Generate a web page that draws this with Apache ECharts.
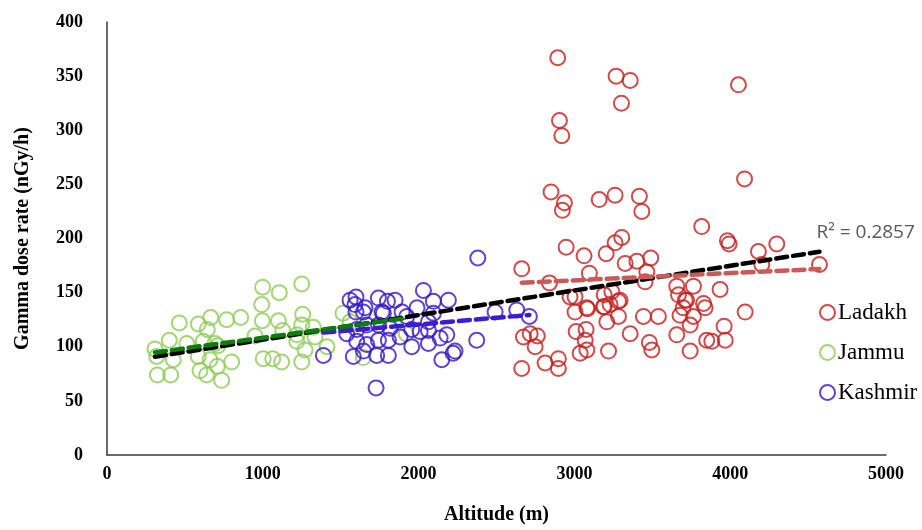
<!DOCTYPE html>
<html>
<head>
<meta charset="utf-8">
<script src="https://cdn.jsdelivr.net/npm/echarts@6/dist/echarts.min.js"></script>
<style>
  html, body { margin: 0; padding: 0; background: #fff; }
  #main { width: 922px; height: 530px; }
</style>
</head>
<body>
<div id="main"></div>
<script>
// altitude (m), gamma dose rate (nGy/h)
var ladakh = [
  [2893,367],[3268,350],[3358,346],[3302,325],[2904,309],[2919,295],[2850,243],[2936,233],
  [2923,226],[3159,236],[3261,240],[3417,239],[3433,225],[2947,192],[3062,184],[3204,186],
  [3261,196],[3304,201],[3326,177],[3401,179],[3490,182],[3465,169],[3096,168],[2662,172],
  [2840,159],[3004,146],[3191,148],[3240,151],[3283,142],[3454,160],[3191,137],[3004,132],
  [3084,135],[3283,128],[3208,123],[3011,114],[3075,116],[3069,106],[3080,97],[3037,94],
  [3219,96],[3358,112],[3481,104],[3497,97],[3443,128],[3539,128],[2673,109],[2716,112],
  [2762,110],[2748,100],[2662,80],[2812,85],[2897,89],[2897,80],[3657,156],[3764,156],
  [3668,148],[3711,143],[3678,129],[3743,120],[3657,111],[3743,96],[3817,211],[2972,146],
  [3080,136],[3186,137],[3293,143],[3229,139],[3829,140],[3839,136],[3764,128],[3849,106],
  [3982,198],[3993,195],[4181,188],[4299,195],[4203,176],[3935,153],[4096,132],[3961,119],
  [3968,106],[3882,105],[4053,342],[4092,255],[4573,176],[3698,136],[3720,143]
];
var jammu = [
  [999,155],[1106,150],[1250,158],[993,139],[464,122],[586,121],[666,127],[644,116],
  [768,125],[858,127],[997,124],[1100,124],[1256,130],[1250,120],[1324,118],[950,110],
  [1128,115],[1218,105],[400,106],[308,98],[319,91],[512,103],[618,105],[693,103],
  [586,91],[661,88],[800,86],[426,88],[323,74],[409,74],[597,78],[640,74],
  [708,82],[736,69],[1003,89],[1064,89],[1121,86],[1250,86],[1271,97],[1335,109],
  [1412,100],[1515,131],[1560,123],[1645,90],[713,101],[1220,111],[1920,112]
];
var kashmir = [
  [2380,182],[1598,146],[1592,139],[1598,132],[1742,145],[1800,142],[1849,143],[2031,152],
  [2095,142],[2191,143],[1646,132],[1774,131],[1924,128],[2095,131],[2063,123],[2181,111],
  [2138,108],[2010,114],[1881,109],[1817,117],[1742,120],[1667,120],[1603,116],[1539,112],
  [1603,105],[1742,106],[1667,102],[1806,106],[1956,100],[2063,103],[2234,96],[2149,88],
  [1806,92],[1731,92],[1646,96],[1581,91],[1389,92],[1727,62],[2373,106],[2491,132],
  [2630,134],[2711,128],[1956,116],[1560,143],[1656,136],[1765,132],[1894,132],[1990,136],
  [2063,115],[2222,94]
];
var xTicks = [0, 1000, 2000, 3000, 4000, 5000];
var yTicks = [0, 50, 100, 150, 200, 250, 300, 350, 400];
var r2Text = 'R\u00B2 = 0.2857';

// least squares line from min x to max x
function trend(pts) {
  var n = pts.length, sx = 0, sy = 0, sxx = 0, sxy = 0, lo = Infinity, hi = -Infinity;
  pts.forEach(function (p) {
    sx += p[0]; sy += p[1]; sxx += p[0] * p[0]; sxy += p[0] * p[1];
    lo = Math.min(lo, p[0]); hi = Math.max(hi, p[0]);
  });
  var b = (n * sxy - sx * sy) / (n * sxx - sx * sx);
  var a = (sy - b * sx) / n;
  return [[lo, a + b * lo], [hi, a + b * hi]];
}

var serif = 'Liberation Serif';
var chart = echarts.init(document.getElementById('main'));

function dots(name, data, color) {
  return {
    name: name,
    type: 'scatter',
    data: data,
    symbol: 'circle',
    symbolSize: 15,
    itemStyle: { color: 'rgba(255,255,255,0)', borderColor: color, borderWidth: 2 },
    z: 2
  };
}

function dashed(data, color) {
  return {
    type: 'line',
    data: data,
    symbol: 'none',
    silent: true,
    lineStyle: { color: color, width: 4.5, type: [11, 6], cap: 'round' },
    z: 3
  };
}

var allPts = ladakh.concat(jammu, kashmir);
var overall = dashed(trend(allPts), '#000');
overall.endLabel = {
  show: true,
  formatter: r2Text,
  color: '#595959',
  fontFamily: 'Open Sans',
  fontSize: 19,
  offset: [-11, -19]
};

var option = {
  animation: false,
  backgroundColor: '#fff',
  grid: { left: 107, right: 36, top: 22, bottom: 75 },
  legend: {
    orient: 'vertical',
    left: 814,
    top: 296,
    itemGap: 17,
    itemWidth: 15,
    itemHeight: 15,
    data: ['Ladakh', 'Jammu', 'Kashmir'],
    textStyle: { fontFamily: serif, fontSize: 23, color: '#000', padding: [0, 0, 0, -2] }
  },
  xAxis: {
    type: 'value',
    min: 0, max: 5000, interval: 1000,
    name: 'Altitude (m)',
    nameLocation: 'middle',
    nameGap: 50,
    nameTextStyle: { fontFamily: serif, fontWeight: 'bold', fontSize: 20, color: '#000' },
    axisLine: { lineStyle: { color: '#3a3a3a', width: 1.5 } },
    axisTick: { show: false },
    splitLine: { show: false },
    axisLabel: {
      margin: 10,
      fontFamily: serif, fontWeight: 'bold', fontSize: 18, color: '#000',
      formatter: function (v) { return xTicks.indexOf(v) >= 0 ? String(v) : ''; }
    }
  },
  yAxis: {
    type: 'value',
    min: 0, max: 400, interval: 50,
    name: 'Gamma dose rate (nGy/h)',
    nameLocation: 'middle',
    nameGap: 74,
    nameTextStyle: { fontFamily: serif, fontWeight: 'bold', fontSize: 20, color: '#000' },
    axisLine: { show: true, lineStyle: { color: '#3a3a3a', width: 1.5 } },
    axisTick: { show: false },
    splitLine: { show: false },
    axisLabel: {
      margin: 24,
      fontFamily: serif, fontWeight: 'bold', fontSize: 18, color: '#000',
      formatter: function (v) { return yTicks.indexOf(v) >= 0 ? String(v) : ''; }
    }
  },
  series: [
    dots('Ladakh', ladakh, '#C41E1E'),
    dots('Jammu', jammu, '#8DCB55'),
    dots('Kashmir', kashmir, '#3416C9'),
    overall,
    dashed(trend(ladakh), '#C65B58'),
    dashed(trend(kashmir), '#3A1CD2'),
    dashed(trend(jammu), '#0B7D0B')
  ]
};

chart.setOption(option);
</script>
</body>
</html>
